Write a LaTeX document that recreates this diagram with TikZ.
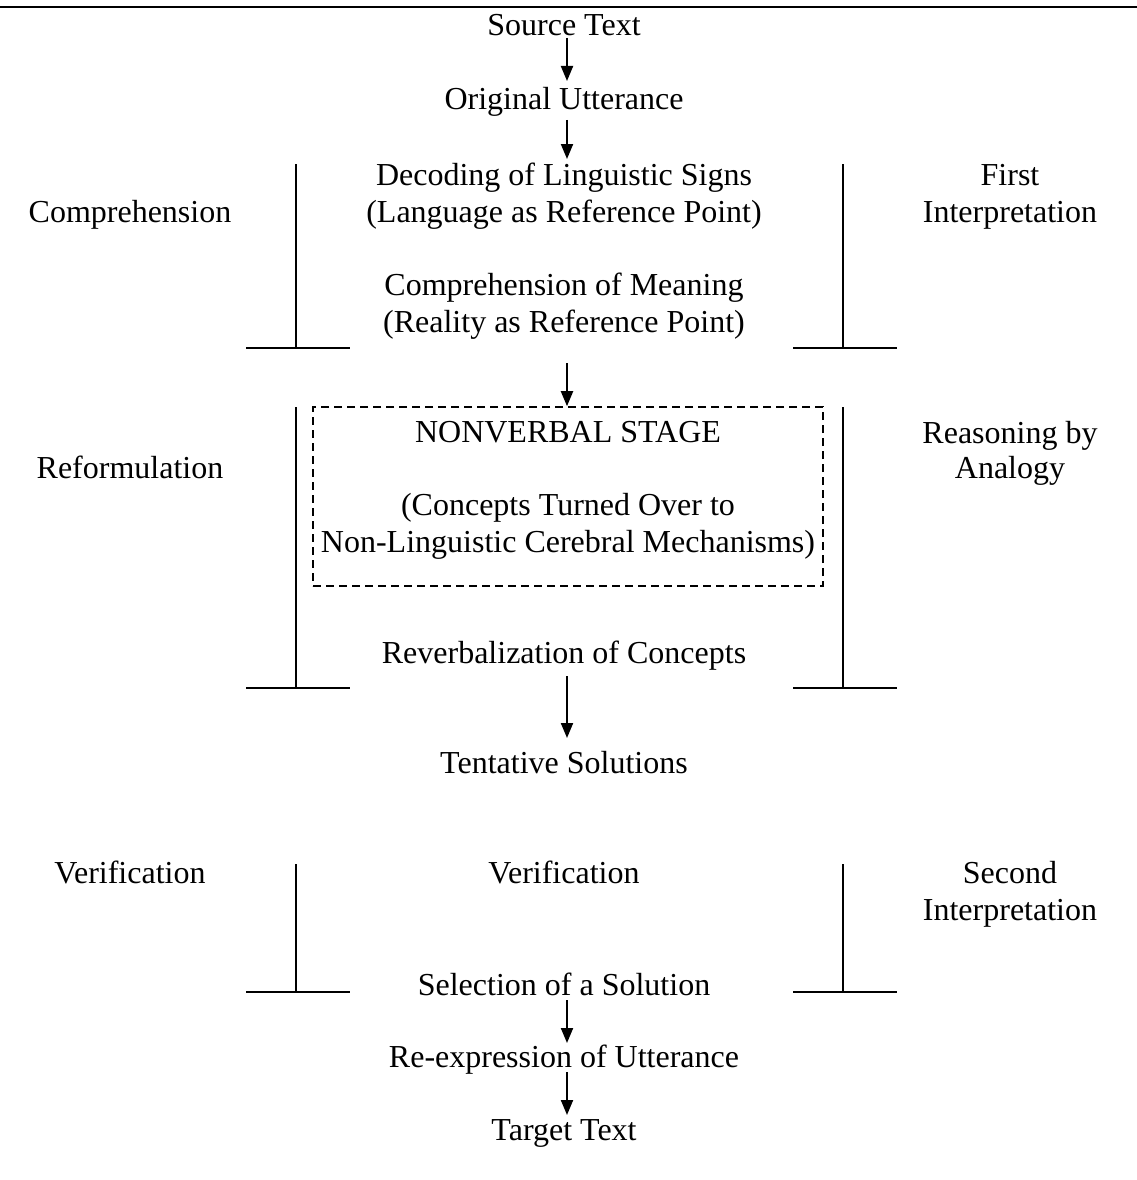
\documentclass[tikz,border=0pt]{standalone}
\usepackage{fontspec}
\setmainfont{Liberation Serif}
\usetikzlibrary{arrows.meta}
\begin{document}
\begin{tikzpicture}[x=1pt,y=-1pt,
  lbl/.style={font=\fontsize{32}{37}\selectfont, inner sep=0pt, anchor=base},
  arr/.style={line width=2pt, -{Triangle[length=15pt,width=12pt]}},
  bar/.style={line width=2pt},
  stagebox/.style={draw, dashed, dash pattern=on 8pt off 5pt, line width=1.6pt, minimum width=510pt, minimum height=179pt, inner sep=0pt}
]
\useasboundingbox (0,0) rectangle (1137,1180);
\draw[line width=2.2pt] (0,7) -- (1137,7);

% central column
\node[lbl] (src) at (564,36) {Source Text};
\node[lbl] (orig) at (564,110) {Original Utterance};
\node[lbl] (dec) at (564,185) {Decoding of Linguistic Signs};
\node[lbl] (lang) at (564,222) {(Language as Reference Point)};
\node[lbl] (comp) at (564,295) {Comprehension of Meaning};
\node[lbl] (real) at (564,332) {(Reality as Reference Point)};
\node[stagebox] (box) at (568,496.5) {};
\node[lbl] (nv) at (568,442) {NONVERBAL STAGE};
\node[lbl] (conc) at (568,515) {(Concepts Turned Over to};
\node[lbl] (nonl) at (568,552) {Non-Linguistic Cerebral Mechanisms)};
\node[lbl] (reverb) at (564,663) {Reverbalization of Concepts};
\node[lbl] (tent) at (564,773) {Tentative Solutions};
\node[lbl] (verc) at (564,883) {Verification};
\node[lbl] (sel) at (564,995) {Selection of a Solution};
\node[lbl] (reexp) at (564,1067) {Re-expression of Utterance};
\node[lbl] (tgt) at (564,1140) {Target Text};

% side labels
\node[lbl] (lcomp) at (130,222) {Comprehension};
\node[lbl] (first) at (1010,185) {First};
\node[lbl] (interp1) at (1010,222) {Interpretation};
\node[lbl] (lref) at (130,478) {Reformulation};
\node[lbl] (reas) at (1010,443) {Reasoning by};
\node[lbl] (anal) at (1010,478) {Analogy};
\node[lbl] (lver) at (130,883) {Verification};
\node[lbl] (second) at (1010,883) {Second};
\node[lbl] (interp2) at (1010,920) {Interpretation};

% arrows
\draw[arr] ([xshift=3pt,yshift=-2pt]src.base) -- ([xshift=3pt,yshift=29pt]orig.base);
\draw[arr] ([xshift=3pt,yshift=-10pt]orig.base) -- ([xshift=3pt,yshift=26pt]dec.base);
\draw[arr] ([xshift=3pt,yshift=-31pt]real.base) -- ([xshift=-1pt]box.north);
\draw[arr] ([xshift=3pt,yshift=-13pt]reverb.base) -- ([xshift=3pt,yshift=35pt]tent.base);
\draw[arr] ([xshift=3pt,yshift=-5pt]sel.base) -- ([xshift=3pt,yshift=24pt]reexp.base);
\draw[arr] ([xshift=3pt,yshift=-5pt]reexp.base) -- ([xshift=3pt,yshift=25pt]tgt.base);

% brackets
\foreach \t/\b in {164/348, 407/688, 864/992}{
  \draw[bar] (296,\t) -- (296,\b);
  \draw[bar] (246,\b) -- (350,\b);
  \draw[bar] (843,\t) -- (843,\b);
  \draw[bar] (793,\b) -- (897,\b);
}
\end{tikzpicture}
\end{document}
